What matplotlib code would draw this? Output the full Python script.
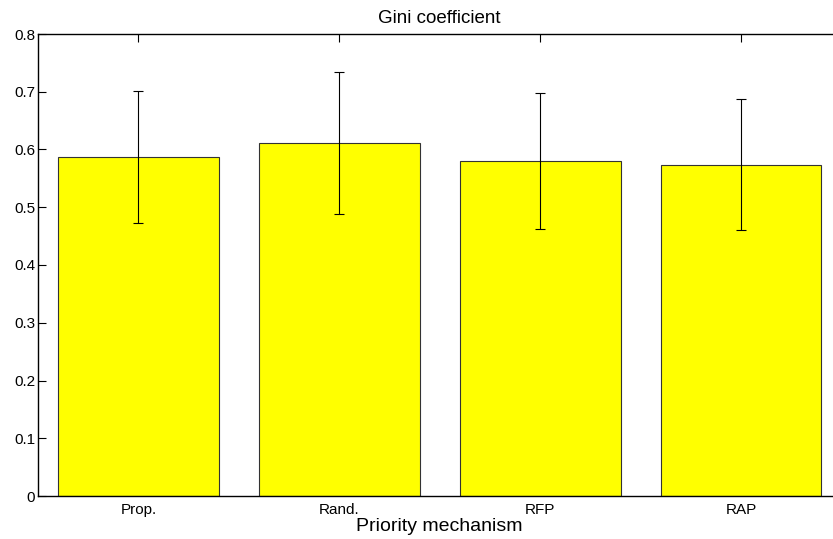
import matplotlib.pyplot as plt
import numpy as np

plt.rcParams['font.family'] = ['Liberation Sans', 'DejaVu Sans']

mechanisms = ['Prop.', 'Rand.', 'RFP', 'RAP']
gini_mean = [0.587, 0.612, 0.580, 0.574]
gini_err = [0.115, 0.123, 0.118, 0.113]

W, H = 833, 539
fig = plt.figure(figsize=(W / 100, H / 100), dpi=100)
# axes runs past the right edge of the picture, like the cropped original
left, right, top, bottom = 38, 841.5, 34, 496
ax = fig.add_axes([left / W, 1 - bottom / H, (right - left) / W, (bottom - top) / H])

x = np.arange(1, len(mechanisms) + 1)
ax.bar(x, gini_mean, width=0.8, color='#ffff00', edgecolor='#333333', linewidth=0.8, zorder=2)
ax.errorbar(x, gini_mean, yerr=gini_err, fmt='none', ecolor='black',
            elinewidth=0.8, capsize=3.6, capthick=0.8, zorder=3)

ax.set_xlim(0.5, 4.5)
ax.set_ylim(0, 0.8)
ax.set_xticks(x)
ax.set_xticklabels(mechanisms)
ax.set_yticks(np.arange(0, 0.81, 0.1))
ax.set_yticklabels(['0'] + ['%.1f' % v for v in np.arange(0.1, 0.81, 0.1)])
ax.tick_params(direction='in', top=True, right=True, labelsize=11, length=6, width=0.8)
ax.tick_params(axis='y', pad=2)
ax.tick_params(axis='x', pad=5)
for s in ax.spines.values():
    s.set_linewidth(1.0)

ax.set_title('Gini coefficient', fontsize=13.5, pad=8)
ax.set_xlabel('Priority mechanism', fontsize=14, labelpad=0.5)

fig.savefig('out.png', dpi=100)
